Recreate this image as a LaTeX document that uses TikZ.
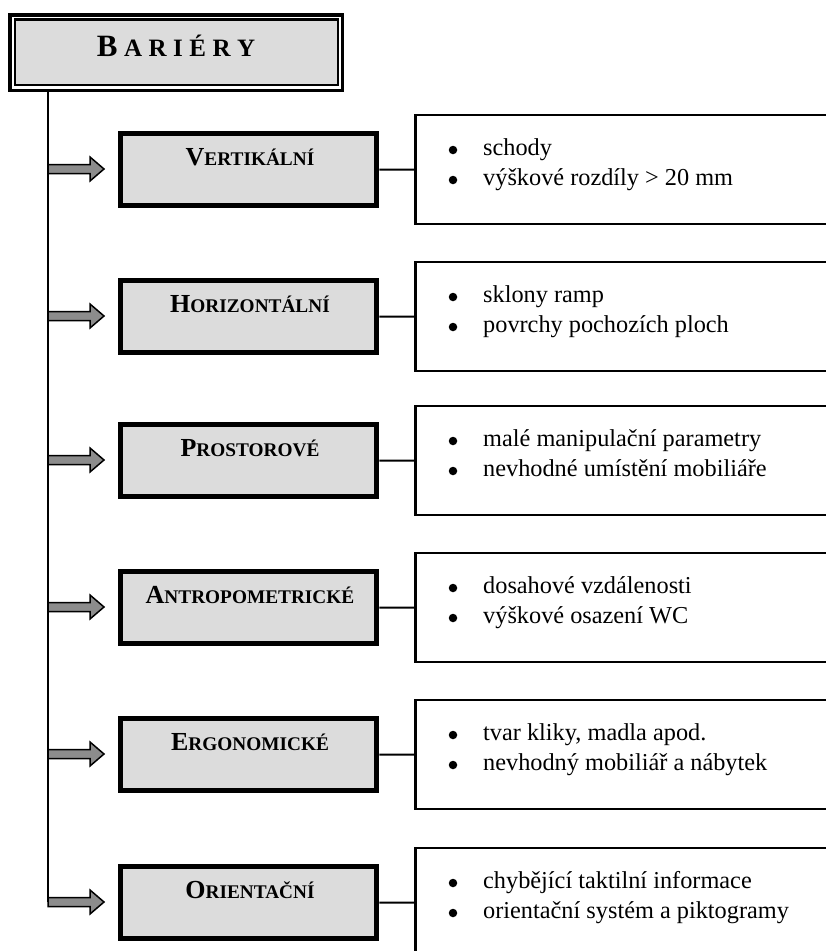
\documentclass[tikz,border=0pt]{standalone}
\usepackage{fontspec}
\setmainfont{Liberation Serif}
\definecolor{boxgray}{HTML}{DCDCDC}
\definecolor{arrowgray}{HTML}{8C8C8C}
\newcommand\catlab[2]{{\bfseries\fontsize{26}{26}\selectfont #1}{\bfseries\fontsize{19.3}{19.3}\selectfont #2}}
\newcommand\mkrow[6]{%
  \coordinate (t#1) at (48,#2);
  \node[catbox] (c#1) at (248.8,#2+0.65) {};
  \node[catlabel] (ct#1) at (250,#2-4) {\catlab{#3}{#4}};
  \node[listbox] (l#1) at (414.3,#2+0.5) {};
  \node[bulletdot] (ba#1) at (453,#2-19) {};
  \node[bulletdot] (bb#1) at (453,#2+11) {};
  \node[listtext] (la#1) at (483,#2-13.5) {#5};
  \node[listtext] (lb#1) at (483,#2+16.5) {#6};
  \draw[conn] (c#1.east) -- (l#1.west);
  \draw[blockarrow] (t#1) ++(0,-4.5) -- ++(42,0) -- ++(0,-7.5) -- ++(14,12)
       -- ++(-14,12) -- ++(0,-7.5) -- ++(-42,0) -- cycle;
}
\begin{document}
\begin{tikzpicture}[x=1pt,y=-1pt,
  catbox/.style={draw, line width=5pt, fill=boxgray, minimum width=256pt,
                 minimum height=72.3pt, inner sep=0pt},
  catlabel/.style={anchor=base, inner sep=0pt},
  listbox/.style={draw, line width=2.6pt, fill=white, anchor=west,
                  minimum width=420pt, minimum height=109pt, inner sep=0pt},
  listtext/.style={anchor=base west, inner sep=0pt, font=\fontsize{24.3}{30}\selectfont},
  bulletdot/.style={circle, fill=black, minimum size=8.5pt, inner sep=0pt},
  conn/.style={line width=2pt},
  blockarrow/.style={draw, line width=1.5pt, fill=arrowgray, line join=miter},
  trunk/.style={line width=2pt},
  titlebox/.style={draw, line width=2.3pt, fill=boxgray, minimum width=323pt,
                   minimum height=65.2pt, inner sep=0pt}]
\useasboundingbox (0,0) rectangle (826,951);
\begin{scope}
\clip (0,0) rectangle (826,951);
\fill[white] (0,0) rectangle (826,951);
% title
\draw[line width=3.3pt] (10,15) rectangle (342.3,90.5);
\node[titlebox] (title) at (176.5,52.1) {};
\node[anchor=base, inner sep=0pt] (titletext) at (176,56)
  {\bfseries{\fontsize{31}{31}\selectfont B}\hspace{6.5pt}{\fontsize{25}{25}\selectfont A\hspace{6.5pt}R\hspace{6.5pt}I\hspace{6.5pt}É\hspace{6.5pt}R\hspace{6.5pt}Y}};
\coordinate (tb) at (48,92);
% rows
\mkrow{1}{169}{V}{ERTIKÁLNÍ}{schody}{výškové rozdíly > 20 mm}
\mkrow{2}{316}{H}{ORIZONTÁLNÍ}{sklony ramp}{povrchy pochozích ploch}
\mkrow{3}{460}{P}{ROSTOROVÉ}{malé manipulační parametry}{nevhodné umístění mobiliáře}
\mkrow{4}{607}{A}{NTROPOMETRICKÉ}{dosahové vzdálenosti}{výškové osazení WC}
\mkrow{5}{754}{E}{RGONOMICKÉ}{tvar kliky, madla apod.}{nevhodný mobiliář a nábytek}
\mkrow{6}{902}{O}{RIENTAČNÍ}{chybějící taktilní informace}{orientační systém a piktogramy}
\draw[trunk] (tb) -- (t6);
\end{scope}
\end{tikzpicture}
\end{document}
